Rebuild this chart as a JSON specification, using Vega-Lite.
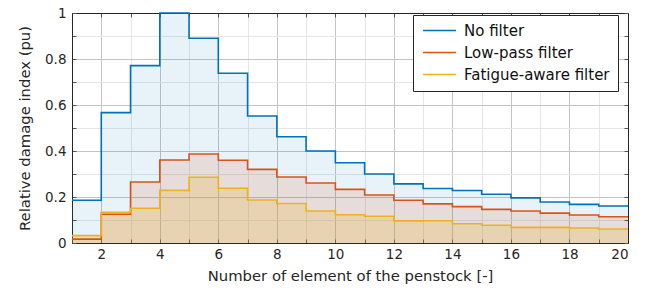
{
  "$schema": "https://vega.github.io/schema/vega-lite/v6.json",
  "width": 556,
  "height": 230,
  "autosize": {"type": "none"},
  "padding": {"left": 72, "top": 13, "right": 24, "bottom": 52},
  "background": "white",
  "config": {
    "font": "DejaVu Sans",
    "view": {"stroke": "#262626", "strokeWidth": 1}
  },
  "datasets": {
    "d": [
      {"x": 1, "s": "No filter", "v": 0.186}, {"x": 2, "s": "No filter", "v": 0.567}, {"x": 3, "s": "No filter", "v": 0.771}, {"x": 4, "s": "No filter", "v": 1.0}, {"x": 5, "s": "No filter", "v": 0.89}, {"x": 6, "s": "No filter", "v": 0.738}, {"x": 7, "s": "No filter", "v": 0.552}, {"x": 8, "s": "No filter", "v": 0.462}, {"x": 9, "s": "No filter", "v": 0.40}, {"x": 10, "s": "No filter", "v": 0.349}, {"x": 11, "s": "No filter", "v": 0.30}, {"x": 12, "s": "No filter", "v": 0.257}, {"x": 13, "s": "No filter", "v": 0.237}, {"x": 14, "s": "No filter", "v": 0.228}, {"x": 15, "s": "No filter", "v": 0.212}, {"x": 16, "s": "No filter", "v": 0.196}, {"x": 17, "s": "No filter", "v": 0.178}, {"x": 18, "s": "No filter", "v": 0.168}, {"x": 19, "s": "No filter", "v": 0.161}, {"x": 20, "s": "No filter", "v": 0.161},
      {"x": 1, "s": "Low-pass filter", "v": 0.017}, {"x": 2, "s": "Low-pass filter", "v": 0.125}, {"x": 3, "s": "Low-pass filter", "v": 0.265}, {"x": 4, "s": "Low-pass filter", "v": 0.361}, {"x": 5, "s": "Low-pass filter", "v": 0.387}, {"x": 6, "s": "Low-pass filter", "v": 0.36}, {"x": 7, "s": "Low-pass filter", "v": 0.32}, {"x": 8, "s": "Low-pass filter", "v": 0.287}, {"x": 9, "s": "Low-pass filter", "v": 0.261}, {"x": 10, "s": "Low-pass filter", "v": 0.233}, {"x": 11, "s": "Low-pass filter", "v": 0.209}, {"x": 12, "s": "Low-pass filter", "v": 0.186}, {"x": 13, "s": "Low-pass filter", "v": 0.17}, {"x": 14, "s": "Low-pass filter", "v": 0.158}, {"x": 15, "s": "Low-pass filter", "v": 0.146}, {"x": 16, "s": "Low-pass filter", "v": 0.139}, {"x": 17, "s": "Low-pass filter", "v": 0.13}, {"x": 18, "s": "Low-pass filter", "v": 0.122}, {"x": 19, "s": "Low-pass filter", "v": 0.114}, {"x": 20, "s": "Low-pass filter", "v": 0.114},
      {"x": 1, "s": "Fatigue-aware filter", "v": 0.032}, {"x": 2, "s": "Fatigue-aware filter", "v": 0.133}, {"x": 3, "s": "Fatigue-aware filter", "v": 0.151}, {"x": 4, "s": "Fatigue-aware filter", "v": 0.229}, {"x": 5, "s": "Fatigue-aware filter", "v": 0.286}, {"x": 6, "s": "Fatigue-aware filter", "v": 0.238}, {"x": 7, "s": "Fatigue-aware filter", "v": 0.187}, {"x": 8, "s": "Fatigue-aware filter", "v": 0.172}, {"x": 9, "s": "Fatigue-aware filter", "v": 0.139}, {"x": 10, "s": "Fatigue-aware filter", "v": 0.123}, {"x": 11, "s": "Fatigue-aware filter", "v": 0.116}, {"x": 12, "s": "Fatigue-aware filter", "v": 0.096}, {"x": 13, "s": "Fatigue-aware filter", "v": 0.097}, {"x": 14, "s": "Fatigue-aware filter", "v": 0.084}, {"x": 15, "s": "Fatigue-aware filter", "v": 0.077}, {"x": 16, "s": "Fatigue-aware filter", "v": 0.068}, {"x": 17, "s": "Fatigue-aware filter", "v": 0.068}, {"x": 18, "s": "Fatigue-aware filter", "v": 0.065}, {"x": 19, "s": "Fatigue-aware filter", "v": 0.061}, {"x": 20, "s": "Fatigue-aware filter", "v": 0.061}
    ]
  },
  "data": {"name": "d"},
  "resolve": {"axis": {"x": "independent", "y": "independent"}},
  "layer": [
    {
      "transform": [{"filter": "datum.s == 'No filter'"}],
      "mark": {"type": "area", "interpolate": "step-after", "color": "#0072BD", "fillOpacity": 0.09},
      "encoding": {
        "x": {
          "field": "x", "type": "quantitative",
          "scale": {"domain": [1, 20], "nice": false, "zero": false},
          "axis": {
            "values": [1,2,3,4,5,6,7,8,9,10,11,12,13,14,15,16,17,18,19,20],
            "labelExpr": "datum.value % 2 == 0 ? datum.label : ''",
            "title": "Number of element of the penstock [-]",
            "titleFont": "DejaVu Sans", "titleFontSize": 14.8, "titleFontWeight": "normal", "titleColor": "#262626", "titlePadding": 8,
            "labelFont": "DejaVu Sans", "labelFontSize": 13.5, "labelColor": "#262626", "labelPadding": 8,
            "domain": true, "domainColor": "#262626",
            "tickSize": -4, "tickColor": "#555",
            "grid": true,
            "gridColor": {"condition": {"test": "datum.value % 2 == 0", "value": "#c4c4c4"}, "value": "#e6e6e6"}
          }
        },
        "y": {
          "field": "v", "type": "quantitative", "stack": null,
          "scale": {"domain": [0, 1], "nice": false},
          "axis": {
            "values": [0,0.1,0.2,0.3,0.4,0.5,0.6,0.7,0.8,0.9,1],
            "labelExpr": "round(datum.value*10) % 2 == 0 ? format(datum.value, '~g') : ''",
            "title": "Relative damage index (pu)",
            "titleFont": "DejaVu Sans", "titleFontSize": 14.8, "titleFontWeight": "normal", "titleColor": "#262626", "titlePadding": 12,
            "labelFont": "DejaVu Sans", "labelFontSize": 13.5, "labelColor": "#262626", "labelPadding": 10,
            "domain": true, "domainColor": "#262626",
            "tickSize": -4, "tickColor": "#555",
            "grid": true,
            "gridColor": {"condition": {"test": "round(datum.value*10) % 2 == 0", "value": "#c4c4c4"}, "value": "#e6e6e6"}
          }
        }
      }
    },
    {
      "transform": [{"filter": "datum.s == 'Low-pass filter'"}],
      "mark": {"type": "area", "interpolate": "step-after", "color": "#D95319", "fillOpacity": 0.13},
      "encoding": {
        "x": {"field": "x", "type": "quantitative", "axis": null},
        "y": {"field": "v", "type": "quantitative", "stack": null, "axis": null}
      }
    },
    {
      "transform": [{"filter": "datum.s == 'Fatigue-aware filter'"}],
      "mark": {"type": "area", "interpolate": "step-after", "color": "#EDB120", "fillOpacity": 0.22},
      "encoding": {
        "x": {"field": "x", "type": "quantitative", "axis": null},
        "y": {"field": "v", "type": "quantitative", "stack": null, "axis": null}
      }
    },
    {
      "mark": {"type": "line", "interpolate": "step-after", "strokeWidth": 1.6},
      "encoding": {
        "x": {
          "field": "x", "type": "quantitative",
          "axis": {
            "orient": "top", "values": [1,2,3,4,5,6,7,8,9,10,11,12,13,14,15,16,17,18,19,20],
            "labels": false, "title": null, "domain": true, "domainColor": "#262626", "grid": false,
            "tickSize": -4, "tickColor": "#555"
          }
        },
        "y": {
          "field": "v", "type": "quantitative",
          "axis": {
            "orient": "right", "values": [0,0.1,0.2,0.3,0.4,0.5,0.6,0.7,0.8,0.9,1],
            "labels": false, "title": null, "domain": true, "domainColor": "#262626", "grid": false,
            "tickSize": -4, "tickColor": "#555"
          }
        },
        "color": {
          "field": "s", "type": "nominal",
          "scale": {"domain": ["No filter", "Low-pass filter", "Fatigue-aware filter"], "range": ["#0072BD", "#D95319", "#EDB120"]},
          "legend": {
            "title": null, "orient": "none", "legendX": 341, "legendY": 2,
            "symbolType": "M-1,0H5", "symbolSize": 121, "symbolStrokeWidth": 1.5, "symbolOpacity": 1,
            "labelFont": "DejaVu Sans", "labelFontSize": 15, "labelColor": "#111",
            "strokeColor": "#262626", "fillColor": "white",
            "padding": 8, "rowPadding": 6, "labelOffset": 28
          }
        }
      }
    }
  ]
}
